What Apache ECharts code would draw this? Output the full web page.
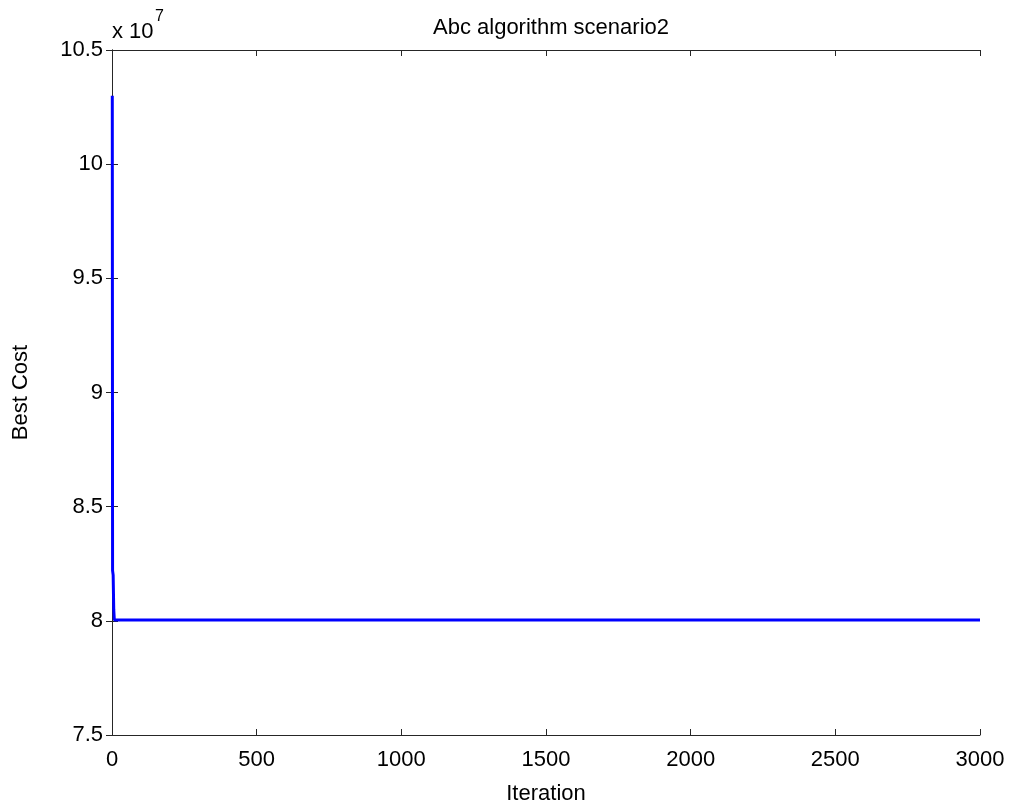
<!DOCTYPE html>
<html>
<head>
<meta charset="utf-8">
<script src="https://cdn.jsdelivr.net/npm/echarts@6/dist/echarts.min.js"></script>
<style>
html,body{margin:0;padding:0;background:#fff;}
#main{width:1014px;height:810px;}
</style>
</head>
<body>
<div id="main"></div>
<script>
// iteration / best cost
var iterations=[1,2,4,6,8,3000];
var bestCost=[103000000,82200000,82000000,80500000,80040000,80040000];

var pts=[];
for(var i=0;i<iterations.length;i++){
  pts.push([iterations[i],bestCost[i]]);
}

var font='"Liberation Sans", Arial, sans-serif';
var fs=22;
var myChart=echarts.init(document.getElementById('main'));
var axisLine={show:true,lineStyle:{color:'#262626',width:1}};
var tick={show:true,inside:true,length:6,lineStyle:{color:'#262626',width:1}};

var option={
  backgroundColor:'#fff',
  animation:false,
  title:{
    text:'Abc algorithm scenario2',
    left:546,top:12,textAlign:'center',
    textStyle:{fontFamily:font,fontSize:fs,fontWeight:'normal',color:'#000'}
  },
  grid:{left:112,right:34,top:50,bottom:75},
  xAxis:[{
    type:'value',min:0,max:3000,interval:500,
    name:'Iteration',nameLocation:'middle',nameGap:48,
    nameTextStyle:{fontFamily:font,fontSize:fs,color:'#000'},
    axisLine:axisLine,axisTick:tick,splitLine:{show:false},
    axisLabel:{fontFamily:font,fontSize:fs,color:'#000',margin:14,
      formatter:function(v){return String(v);}}
  },{
    type:'value',min:0,max:3000,interval:500,position:'top',
    axisLine:axisLine,axisTick:tick,splitLine:{show:false},
    axisLabel:{show:false}
  }],
  yAxis:[{
    type:'value',min:75000000,max:105000000,interval:5000000,
    name:'Best Cost',nameLocation:'middle',nameGap:80,
    nameTextStyle:{fontFamily:font,fontSize:fs,color:'#000'},
    axisLine:axisLine,axisTick:tick,splitLine:{show:false},
    axisLabel:{fontFamily:font,fontSize:fs,color:'#000',margin:9,
      formatter:function(v){return String(Math.round(v/1e6)/10);}}
  },{
    type:'value',min:75000000,max:105000000,interval:5000000,position:'right',
    axisLine:axisLine,axisTick:tick,splitLine:{show:false},
    axisLabel:{show:false}
  }],
  graphic:[{
    type:'text',left:112,top:21,
    style:{text:'x 10',fontFamily:font,fontSize:fs,fill:'#000'}
  },{
    type:'text',left:155,top:9,
    style:{text:'7',fontFamily:font,fontSize:16,fill:'#000'}
  }],
  series:[{
    type:'line',
    data:pts,
    showSymbol:false,
    lineStyle:{color:'#0000ff',width:3},
    itemStyle:{color:'#0000ff'}
  }]
};
myChart.setOption(option);
</script>
</body>
</html>
